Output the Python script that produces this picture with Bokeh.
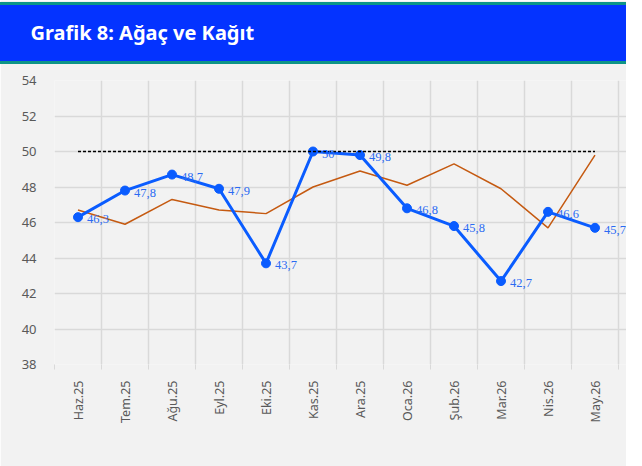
import math
from bokeh.plotting import figure
from bokeh.models import (ColumnDataSource, FixedTicker, Legend, LegendItem,
                          LabelSet, Range1d, Title)
from bokeh.embed import file_html
from bokeh.resources import INLINE

# ---- data ----
months = ["Haz.25", "Tem.25", "Ağu.25", "Eyl.25", "Eki.25", "Kas.25",
          "Ara.25", "Oca.26", "Şub.26", "Mar.26", "Nis.26", "May.26"]
agac = [46.3, 47.8, 48.7, 47.9, 43.7, 50.0, 49.8, 46.8, 45.8, 42.7, 46.6, 45.7]
tr_pmi = [46.7, 45.9, 47.3, 46.7, 46.5, 48.0, 48.9, 48.1, 49.3, 47.9, 45.7, 49.8]
esik = [50, 50, 50, 50, 50, 50, 50, 50, 50, 50, 50, 50]
y_ticks = [38, 40, 42, 44, 46, 48, 50, 52, 54]
title = "Grafik 8: Ağaç ve Kağıt"
series_names = ["Ağaç ve Kağıt PMI", "TR PMI", "Eşik"]

FONT = "Noto Sans"
BLUE = "#0A5CFF"
LABEL_BLUE = "#2A6BF2"
ORANGE = "#C55A11"
GRAY_TXT = "#595959"
GRID = "#D9D9D9"
PANEL = "#F2F2F2"
HEAD_BLUE = "#0433FF"
TEAL = "#0D9488"

# layout (figure pixels)
W = 626
FL, FT, FH = 54, 80, 284
CAT_W = 47                     # pixels per month
EXTRA = W - FL - CAT_W * 12    # room right of the last month for its label
n = len(months)

x = list(range(n))
labels = [str(int(v)) if float(v).is_integer() else f"{v:.1f}".replace(".", ",") for v in agac]
src = ColumnDataSource(dict(x=x, agac=agac, tr=tr_pmi, esik=esik, lbl=labels))

p = figure(frame_width=W - FL, frame_height=FH,
           x_range=Range1d(-0.5, n - 0.5 + EXTRA / CAT_W), y_range=Range1d(38, 54),
           toolbar_location=None, output_backend="svg",
           background_fill_color=PANEL, border_fill_color=PANEL, outline_line_color=None,
           min_border_left=FL, min_border_right=0,
           min_border_top=FT, min_border_bottom=40)

# spacer between header and plot (inner), then the header title (outer)
p.add_layout(Title(text=" ", text_font_size="1px", standoff=15), "above")
p.add_layout(Title(text=title, align="left", offset=-5 - FL, vertical_align="bottom",
                   text_color="white", text_font=FONT, text_font_style="bold",
                   text_font_size="20px",
                   background_fill_color=HEAD_BLUE, background_fill_alpha=1,
                   border_line_color=TEAL, border_line_width=3,
                   padding=dict(left=35, right=700, top=15, bottom=17),
                   standoff=0), "above")

bounds = [i - 0.5 for i in range(n + 1)]
p.xaxis.ticker = FixedTicker(ticks=x, minor_ticks=bounds)
p.xaxis.major_label_overrides = {i: m for i, m in enumerate(months)}
p.xaxis.major_label_orientation = math.pi / 2
p.xaxis.major_tick_line_color = None
p.xaxis.major_tick_out = 0
p.xaxis.major_tick_in = 0
p.xaxis.minor_tick_line_color = GRID
p.xaxis.minor_tick_in = 0
p.xaxis.minor_tick_out = 5
p.xaxis.axis_line_color = None
p.xaxis.major_label_standoff = 11
p.xaxis.major_label_text_color = GRAY_TXT
p.xaxis.major_label_text_font = FONT
p.xaxis.major_label_text_font_size = "12.5px"

p.yaxis.ticker = FixedTicker(ticks=y_ticks)
p.yaxis.major_tick_line_color = None
p.yaxis.minor_tick_line_color = None
p.yaxis.axis_line_color = None
p.yaxis.major_label_standoff = 12
p.yaxis.major_label_text_color = GRAY_TXT
p.yaxis.major_label_text_font = FONT
p.yaxis.major_label_text_font_size = "13px"

p.xgrid.ticker = FixedTicker(ticks=bounds)
p.ygrid.ticker = FixedTicker(ticks=y_ticks)
p.grid.grid_line_color = GRID
p.grid.grid_line_width = 1.5

r_tr = p.line("x", "tr", source=src, line_color=ORANGE, line_width=1.5)
r_blue = p.line("x", "agac", source=src, line_color=BLUE, line_width=3)
r_dots = p.scatter("x", "agac", source=src, size=9, fill_color=BLUE, line_color=BLUE)
r_esik = p.line("x", "esik", source=src, line_color="black", line_width=1.5, line_dash="3 2")

p.add_layout(LabelSet(x="x", y="agac", text="lbl", source=src, x_offset=9, y_offset=-2,
                      text_baseline="middle", text_align="left", text_color=LABEL_BLUE,
                      text_font=FONT, text_font_size="12.5px"))

legend = Legend(items=[LegendItem(label=series_names[0], renderers=[r_blue, r_dots]),
                       LegendItem(label=series_names[1], renderers=[r_tr]),
                       LegendItem(label=series_names[2], renderers=[r_esik])],
                location="top_center", orientation="horizontal",
                background_fill_alpha=0, border_line_color=None,
                label_text_color=GRAY_TXT, label_text_font=FONT, label_text_font_size="13px",
                glyph_width=38, glyph_height=16, label_height=16,
                spacing=20, margin=6, padding=2)
p.add_layout(legend, "below")

open("out.html", "w").write(file_html(p, INLINE))
